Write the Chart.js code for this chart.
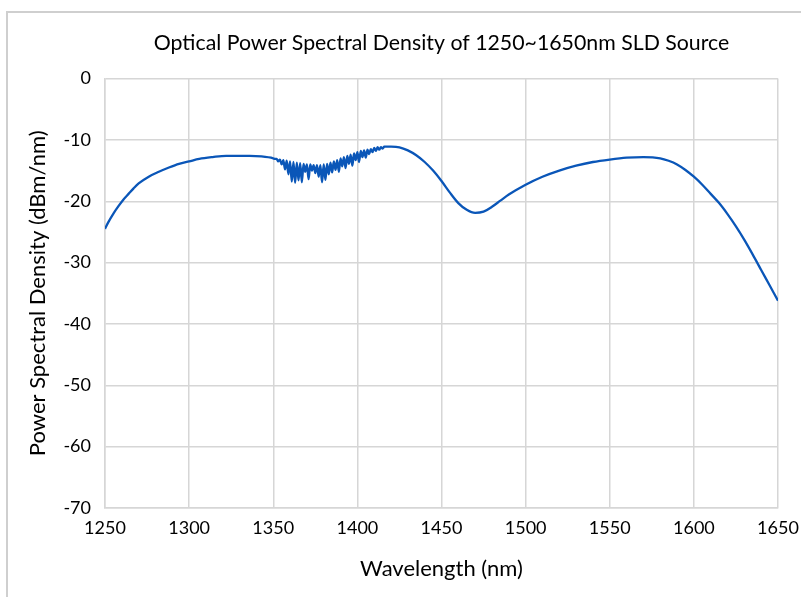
<!DOCTYPE html>
<html>
<head>
<meta charset="utf-8">
<script src="https://cdn.jsdelivr.net/npm/chart.js@4/dist/chart.umd.min.js"></script>
<style>
  html, body { margin: 0; padding: 0; background: #ffffff; }
  #wrap { width: 801px; height: 597px; }
</style>
</head>
<body>
<div id="wrap"><canvas id="c" width="801" height="597"></canvas></div>
<script>
// ---- data ----
const chartTitle = 'Optical Power Spectral Density of 1250~1650nm SLD Source';
const xAxisTitle = 'Wavelength (nm)';
const yAxisTitle = 'Power Spectral Density (dBm/nm)';
const xTicks = [1250, 1300, 1350, 1400, 1450, 1500, 1550, 1600, 1650];
const yTicks = [0, -10, -20, -30, -40, -50, -60, -70];

// wavelength (nm)
const wavelength = [
  1250, 1252, 1255, 1258, 1261, 1264, 1267, 1270, 1276, 1282, 1288, 1294, 1300, 1306, 1314, 1322, 1330, 1336, 1343,
  1350, 1351, 1352, 1353, 1354, 1355, 1356, 1357, 1358, 1359, 1360, 1361, 1362, 1363, 1364, 1365, 1366, 1367, 1368, 1369,
  1370, 1371, 1372, 1373, 1374, 1375, 1376, 1377, 1378, 1379, 1380, 1381, 1382, 1383, 1384, 1385, 1386, 1387, 1388, 1389,
  1390, 1391, 1392, 1393, 1394, 1395, 1396, 1397, 1398, 1399, 1400, 1401, 1402, 1403, 1404, 1405, 1406, 1407, 1408, 1409,
  1410, 1411, 1412, 1413, 1414, 1415, 1416, 1418, 1420,
  1425, 1430, 1435, 1440, 1445, 1450, 1455, 1460, 1465, 1470, 1475, 1480, 1485, 1490, 1500, 1510, 1520, 1530, 1540,
  1550, 1560, 1570, 1580, 1585, 1590, 1595, 1600, 1605, 1610, 1615, 1620, 1625, 1630, 1635, 1640, 1645, 1650
];
// power spectral density (dBm/nm)
const psd = [
  -24.5, -23.4, -22.0, -20.8, -19.7, -18.8, -17.9, -17.1, -16.0, -15.2, -14.5, -13.9, -13.5, -13.1, -12.8, -12.6, -12.6, -12.6, -12.7,
  -13.0, -13.1, -13.1, -13.5, -13.2, -14.0, -13.3, -14.8, -13.4, -15.6, -13.5, -16.8, -13.6, -17.0, -13.7, -16.6, -13.8, -16.9, -13.9, -15.2,
  -14.0, -16.4, -14.0, -15.0, -14.1, -15.4, -14.1, -16.0, -14.1, -16.9, -14.0, -16.5, -13.9, -15.6, -13.7, -15.3, -13.5, -14.9, -13.3, -15.2,
  -13.0, -14.3, -12.8, -14.6, -12.6, -13.9, -12.4, -14.2, -12.2, -13.3, -12.0, -13.6, -11.8, -12.8, -11.7, -12.9, -11.6, -12.3, -11.5, -12.0,
  -11.3, -11.8, -11.2, -11.6, -11.2, -11.4, -11.1, -11.1, -11.1,
  -11.2, -11.7, -12.5, -13.6, -15.0, -16.7, -18.6, -20.3, -21.4, -21.9, -21.7, -20.9, -19.9, -18.9, -17.3, -16.0, -15.0, -14.2, -13.6,
  -13.2, -12.9, -12.8, -13.0, -13.4, -14.0, -14.9, -16.0, -17.3, -18.8, -20.3, -22.1, -24.1, -26.3, -28.7, -31.2, -33.7, -36.2
];

const points = wavelength.map((w, i) => ({ x: w, y: psd[i] }));

const frame = {
  id: 'frame',
  beforeDraw(chart) {
    const ctx = chart.ctx;
    ctx.save();
    ctx.fillStyle = '#ffffff';
    ctx.fillRect(0, 0, chart.width, chart.height);
    ctx.strokeStyle = '#cfcfcf';
    ctx.lineWidth = 2;
    ctx.beginPath();
    ctx.moveTo(7, chart.height);
    ctx.lineTo(7, 12);
    ctx.lineTo(chart.width, 12);
    ctx.stroke();
    ctx.restore();
  }
};

const FONT = "Lato, 'Open Sans', 'DejaVu Sans', sans-serif";
const gridColor = '#d6d6d6';

new Chart(document.getElementById('c'), {
  type: 'line',
  data: {
    datasets: [{
      data: points,
      borderColor: '#0a56b8',
      borderWidth: 2.3,
      pointRadius: 0,
      fill: false,
      cubicInterpolationMode: 'monotone'
    }]
  },
  options: {
    responsive: false,
    animation: false,
    devicePixelRatio: 1,
    layout: { padding: { left: 0, right: 23, top: 0, bottom: 0 } },
    plugins: {
      legend: { display: false },
      tooltip: { enabled: false },
      title: {
        display: true,
        text: chartTitle,
        fullSize: false,
        color: '#000000',
        font: { family: FONT, size: 21.3, weight: 'normal' },
        padding: { top: 30, bottom: 23 }
      }
    },
    scales: {
      x: {
        type: 'linear',
        min: xTicks[0],
        max: xTicks[xTicks.length - 1],
        afterFit(s) { s.height = 89; s.paddingLeft = 0; s.paddingRight = 0; },
        afterBuildTicks(s) { s.ticks = xTicks.map(v => ({ value: v })); },
        ticks: {
          color: '#000000', font: { family: FONT, size: 18 }, padding: 9, maxRotation: 0, autoSkip: false,
          callback: v => String(v)
        },
        grid: { color: gridColor, lineWidth: 1.5, drawTicks: false },
        border: { color: gridColor, width: 1.5 },
        title: { display: true, text: xAxisTitle, color: '#000000', font: { family: FONT, size: 22 }, padding: { top: 0, bottom: 15 } }
      },
      y: {
        type: 'linear',
        min: -70,
        max: 0,
        afterFit(s) { s.width = 105; },
        afterBuildTicks(s) { s.ticks = yTicks.map(v => ({ value: v })); },
        ticks: { color: '#000000', font: { family: FONT, size: 18 }, padding: 14, callback: v => String(v) },
        grid: { color: gridColor, lineWidth: 1.5, drawTicks: false },
        border: { color: gridColor, width: 1.5 },
        title: { display: true, text: yAxisTitle, color: '#000000', font: { family: FONT, size: 22 }, padding: { top: 25, bottom: 0 } }
      }
    }
  },
  plugins: [frame]
});
</script>
</body>
</html>
